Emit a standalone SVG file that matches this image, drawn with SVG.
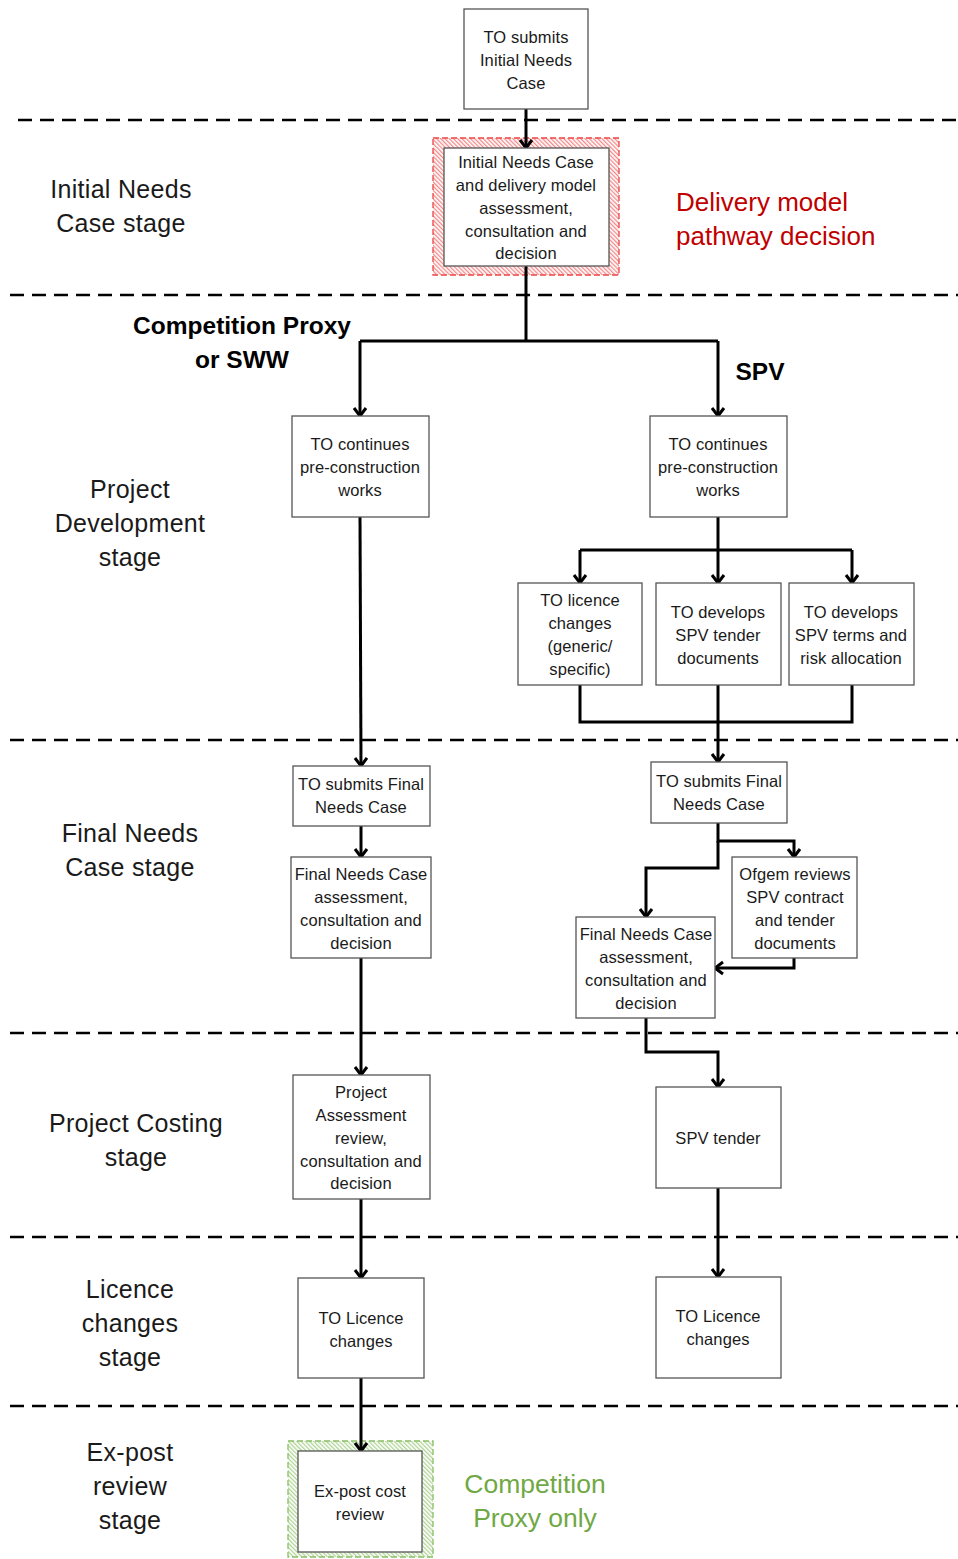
<svg xmlns="http://www.w3.org/2000/svg" width="958" height="1559" viewBox="0 0 958 1559">
<style>
.bg{fill:#ffffff}
.box{fill:#ffffff;stroke:#555555;stroke-width:1.3}
.t{font-family:"Liberation Sans",Arial,sans-serif;font-size:16.5px;letter-spacing:0.1px;fill:#1a1a1a;text-anchor:middle}
.stage{font-family:"Liberation Sans",Arial,sans-serif;font-size:25px;letter-spacing:0.3px;fill:#1a1a1a;text-anchor:middle}
.bold{font-family:"Liberation Sans",Arial,sans-serif;font-size:24.5px;font-weight:bold;fill:#000;text-anchor:middle}
.red{font-family:"Liberation Sans",Arial,sans-serif;font-size:26px;fill:#c00000}
.green{font-family:"Liberation Sans",Arial,sans-serif;font-size:26.5px;fill:#70a845;text-anchor:middle}
.sep{stroke:#000;stroke-width:2.5;stroke-dasharray:14 8;fill:none}
.c{stroke:#000;stroke-width:3;fill:none;stroke-linejoin:miter}
.ca{stroke:#000;stroke-width:3;fill:none;marker-end:url(#ah)}
</style>
<defs>
<marker id="ah" markerUnits="userSpaceOnUse" markerWidth="16" markerHeight="16" viewBox="0 0 16 16" refX="14" refY="8" orient="auto">
<path d="M6,2 L14,8 L6,14" fill="none" stroke="#000" stroke-width="3"/>
</marker>
<pattern id="hr" patternUnits="userSpaceOnUse" width="3" height="3" patternTransform="rotate(-45)">
<rect width="3" height="3" fill="#ffffff"/>
<rect width="1.3" height="3" fill="#f28a8a"/>
</pattern>
<pattern id="hg" patternUnits="userSpaceOnUse" width="3" height="3" patternTransform="rotate(-45)">
<rect width="3" height="3" fill="#ffffff"/>
<rect width="1.3" height="3" fill="#b0d496"/>
</pattern>
</defs>
<rect class="bg" x="0" y="0" width="958" height="1559"/>

<g id="separators">
<line class="sep" x1="18" y1="120" x2="958" y2="120"/>
<line class="sep" x1="10" y1="295" x2="958" y2="295"/>
<line class="sep" x1="10" y1="740" x2="958" y2="740"/>
<line class="sep" x1="10" y1="1033" x2="958" y2="1033"/>
<line class="sep" x1="10" y1="1237" x2="958" y2="1237"/>
<line class="sep" x1="10" y1="1406" x2="958" y2="1406"/>
</g>

<g id="stage-labels">
<text class="stage" x="121" y="198">Initial Needs</text>
<text class="stage" x="121" y="232">Case stage</text>
<text class="stage" x="130" y="498">Project</text>
<text class="stage" x="130" y="532">Development</text>
<text class="stage" x="130" y="566">stage</text>
<text class="stage" x="130" y="842">Final Needs</text>
<text class="stage" x="130" y="876">Case stage</text>
<text class="stage" x="136" y="1132">Project Costing</text>
<text class="stage" x="136" y="1166">stage</text>
<text class="stage" x="130" y="1298">Licence</text>
<text class="stage" x="130" y="1332">changes</text>
<text class="stage" x="130" y="1366">stage</text>
<text class="stage" x="130" y="1461">Ex-post</text>
<text class="stage" x="130" y="1495">review</text>
<text class="stage" x="130" y="1529">stage</text>
</g>

<g id="annotations">
<text class="red" x="676" y="211">Delivery model</text>
<text class="red" x="676" y="245">pathway decision</text>
<text class="green" x="535" y="1493">Competition</text>
<text class="green" x="535" y="1527">Proxy only</text>
<text class="bold" x="242" y="334">Competition Proxy</text>
<text class="bold" x="242" y="368">or SWW</text>
<text class="bold" x="760" y="380">SPV</text>
</g>

<g id="highlights">
<rect x="433" y="138" width="186" height="137" fill="url(#hr)" stroke="#ee4444" stroke-width="1.3" stroke-dasharray="6 3"/>
<rect x="288" y="1441" width="145" height="116" fill="url(#hg)" stroke="#88c063" stroke-width="1.3" stroke-dasharray="6 3"/>
</g>

<g id="connectors">
<line class="ca" x1="526" y1="109" x2="526" y2="148"/>
<path class="c" d="M526,266 V341 M360,341 H718"/>
<path class="ca" d="M360,341 V416"/>
<path class="ca" d="M718,341 V416"/>
<path class="c" d="M718,517 V550 M580,550 H852"/>
<path class="ca" d="M580,550 V583"/>
<path class="ca" d="M718,550 V583"/>
<path class="ca" d="M852,550 V583"/>
<path class="c" d="M580,685 V722 H852 V685"/>
<path class="ca" d="M718,685 V762"/>
<path class="ca" d="M360,517 L361,766"/>
<path class="ca" d="M361,826 V857"/>
<path class="ca" d="M718,823 V841 H794 V857"/>
<path class="ca" d="M718,841 V868 H646 V917"/>
<path class="ca" d="M794,958 V968 H715"/>
<path class="ca" d="M361,958 V1075"/>
<path class="ca" d="M646,1018 V1052 H718 V1087"/>
<path class="ca" d="M361,1199 V1278"/>
<path class="ca" d="M718,1188 V1277"/>
<path class="ca" d="M361,1378 V1451"/>
</g>

<g id="n-top">
<rect class="box" x="464" y="9" width="124" height="100"/>
<text class="t" x="526" y="43">TO submits</text>
<text class="t" x="526" y="66">Initial Needs</text>
<text class="t" x="526" y="89">Case</text>
</g>
<g id="n-inc">
<rect class="box" x="444" y="148" width="165" height="118"/>
<text class="t" x="526" y="168">Initial Needs Case</text>
<text class="t" x="526" y="191">and delivery model</text>
<text class="t" x="526" y="214">assessment,</text>
<text class="t" x="526" y="237">consultation and</text>
<text class="t" x="526" y="259">decision</text>
</g>
<g id="n-left-pre">
<rect class="box" x="292" y="416" width="137" height="101"/>
<text class="t" x="360" y="450">TO continues</text>
<text class="t" x="360" y="473">pre-construction</text>
<text class="t" x="360" y="496">works</text>
</g>
<g id="n-right-pre">
<rect class="box" x="650" y="416" width="137" height="101"/>
<text class="t" x="718" y="450">TO continues</text>
<text class="t" x="718" y="473">pre-construction</text>
<text class="t" x="718" y="496">works</text>
</g>
<g id="n-licence">
<rect class="box" x="518" y="583" width="124" height="102"/>
<text class="t" x="580" y="606">TO licence</text>
<text class="t" x="580" y="629">changes</text>
<text class="t" x="580" y="652">(generic/</text>
<text class="t" x="580" y="675">specific)</text>
</g>
<g id="n-tenderdocs">
<rect class="box" x="656" y="583" width="125" height="102"/>
<text class="t" x="718" y="618">TO develops</text>
<text class="t" x="718" y="641">SPV tender</text>
<text class="t" x="718" y="664">documents</text>
</g>
<g id="n-terms">
<rect class="box" x="789" y="583" width="125" height="102"/>
<text class="t" x="851" y="618">TO develops</text>
<text class="t" x="851" y="641">SPV terms and</text>
<text class="t" x="851" y="664">risk allocation</text>
</g>
<g id="n-left-fnc">
<rect class="box" x="293" y="766" width="137" height="60"/>
<text class="t" x="361" y="790">TO submits Final</text>
<text class="t" x="361" y="813">Needs Case</text>
</g>
<g id="n-right-fnc">
<rect class="box" x="651" y="762" width="136" height="61"/>
<text class="t" x="719" y="787">TO submits Final</text>
<text class="t" x="719" y="810">Needs Case</text>
</g>
<g id="n-left-fnca">
<rect class="box" x="291" y="857" width="140" height="101"/>
<text class="t" x="361" y="880">Final Needs Case</text>
<text class="t" x="361" y="903">assessment,</text>
<text class="t" x="361" y="926">consultation and</text>
<text class="t" x="361" y="949">decision</text>
</g>
<g id="n-ofgem">
<rect class="box" x="732" y="857" width="125" height="101"/>
<text class="t" x="795" y="880">Ofgem reviews</text>
<text class="t" x="795" y="903">SPV contract</text>
<text class="t" x="795" y="926">and tender</text>
<text class="t" x="795" y="949">documents</text>
</g>
<g id="n-right-fnca">
<rect class="box" x="576" y="917" width="139" height="101"/>
<text class="t" x="646" y="940">Final Needs Case</text>
<text class="t" x="646" y="963">assessment,</text>
<text class="t" x="646" y="986">consultation and</text>
<text class="t" x="646" y="1009">decision</text>
</g>
<g id="n-pa">
<rect class="box" x="293" y="1075" width="137" height="124"/>
<text class="t" x="361" y="1098">Project</text>
<text class="t" x="361" y="1121">Assessment</text>
<text class="t" x="361" y="1144">review,</text>
<text class="t" x="361" y="1167">consultation and</text>
<text class="t" x="361" y="1189">decision</text>
</g>
<g id="n-spvtender">
<rect class="box" x="656" y="1087" width="125" height="101"/>
<text class="t" x="718" y="1144">SPV tender</text>
</g>
<g id="n-left-lic">
<rect class="box" x="298" y="1278" width="126" height="100"/>
<text class="t" x="361" y="1324">TO Licence</text>
<text class="t" x="361" y="1347">changes</text>
</g>
<g id="n-right-lic">
<rect class="box" x="656" y="1277" width="125" height="101"/>
<text class="t" x="718" y="1322">TO Licence</text>
<text class="t" x="718" y="1345">changes</text>
</g>
<g id="n-expost">
<rect class="box" x="298" y="1451" width="124" height="101"/>
<text class="t" x="360" y="1497">Ex-post cost</text>
<text class="t" x="360" y="1520">review</text>
</g>
</svg>
